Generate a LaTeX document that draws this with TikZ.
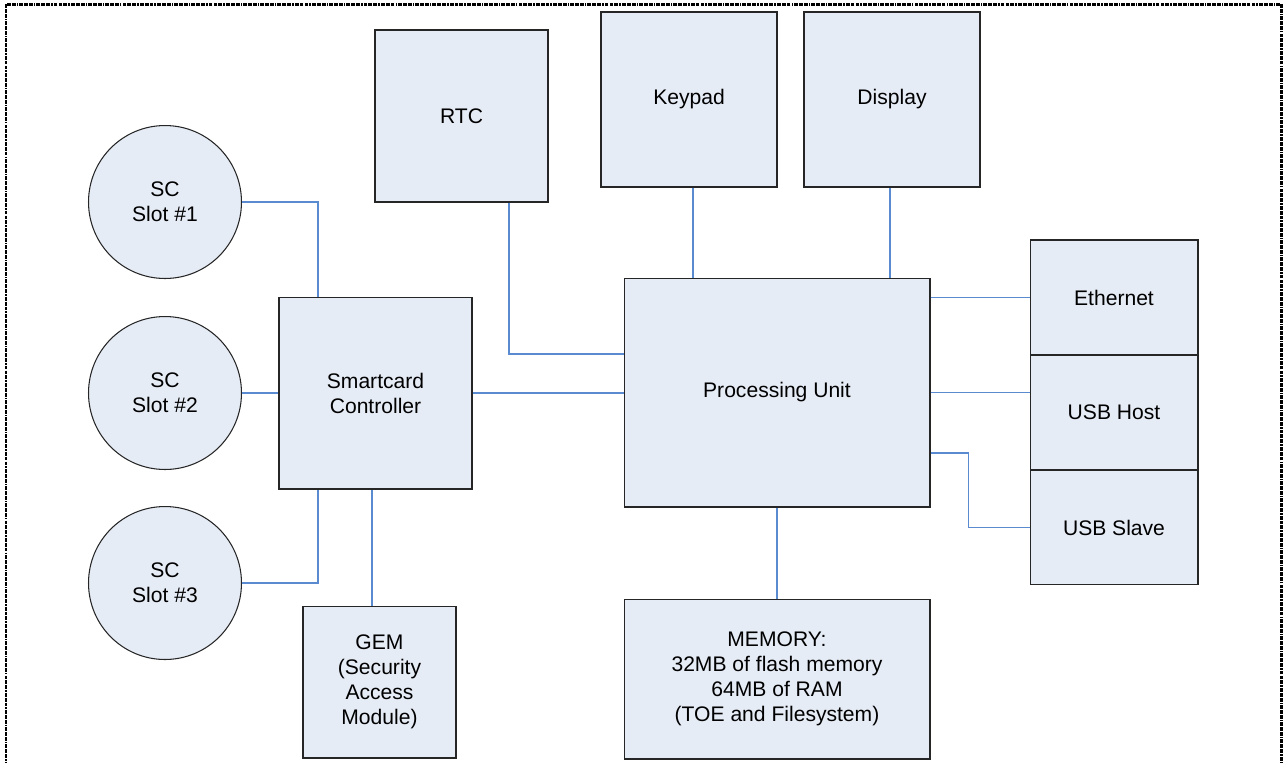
\documentclass[tikz,border=0pt]{standalone}
\usepackage{fontspec}
\setmainfont{Liberation Sans}
\usepackage{tikz}
\usetikzlibrary{positioning,calc}

\definecolor{boxfill}{HTML}{E6ECF6}
\definecolor{linkblue}{HTML}{5A8AD0}

\begin{document}
\begin{tikzpicture}[
		x=0.02cm,y=-0.02cm,
		every node/.append style={font=\fontsize{12}{14.2}\selectfont,align=center},
		block/.style={draw=black!85,line width=0.6pt,fill=boxfill,inner sep=0pt},
		slot/.style={block,circle,minimum size=3.06cm},
		link/.style={draw=linkblue,line width=0.6pt}
	]
	\useasboundingbox (0,0) rectangle (1285,762);
	\draw[line width=1.7pt,dash pattern=on 2.2pt off 0.6pt on 2.2pt off 0.6pt on 2.2pt off 0.6pt on 0.8pt off 0.6pt] (6,4) rectangle (1281,800);

	% top row
	\node[block,minimum width=3.46cm,minimum height=3.44cm] (rtc) at (461.5,116) {RTC};
	\node[block,minimum width=3.52cm,minimum height=3.5cm] (keypad) at (689,99.5) {Keypad};
	\node[block,minimum width=3.52cm,minimum height=3.5cm] (display) at (892,99.5) {Display};

	% smartcard side
	\node[slot] (slot1) at (165,202) {SC\\Slot \#1};
	\node[slot] (slot2) at (165,393) {SC\\Slot \#2};
	\node[slot] (slot3) at (165,583) {SC\\Slot \#3};
	\node[block,minimum width=3.86cm,minimum height=3.84cm] (ctrl) at (375.5,393) {Smartcard\\Controller};
	\node[block,minimum width=3.06cm,minimum height=3.04cm] (gem) at (379.5,682) {GEM\\(Security\\Access\\Module)};

	% core and memory
	\node[block,minimum width=6.12cm,minimum height=4.58cm] (pu) at (777,392.5) {Processing Unit};
	\node[block,minimum width=6.12cm,minimum height=3.2cm] (mem) at (777,679) {MEMORY:\\32MB of flash memory\\64MB of RAM\\(TOE and Filesystem)};

	% interfaces stack
	\node[block,minimum width=3.36cm,minimum height=2.3cm] (eth) at (1114,297.5) {Ethernet};
	\node[block,minimum width=3.36cm,minimum height=2.3cm,below=-0.6pt of eth] (usbh) {USB Host};
	\node[block,minimum width=3.36cm,minimum height=2.3cm,below=-0.6pt of usbh] (usbs) {USB Slave};

	% connections
	\draw[link] (slot1.east) -| ([xshift=-1.15cm]ctrl.north);
	\draw[link] (slot2.east) -- (slot2.east -| ctrl.west);
	\draw[link] (slot3.east) -| ([xshift=-1.15cm]ctrl.south);
	\draw[link] ([xshift=-0.07cm]ctrl.south) -- ([xshift=-0.07cm]ctrl.south |- gem.north);
	\draw[link] (ctrl.east) -- (ctrl.east -| pu.west);
	\draw[link] ([xshift=0.95cm]rtc.south) |- ([yshift=0.77cm]pu.west);
	\draw[link] ([xshift=0.08cm]keypad.south) -- ([xshift=0.08cm]keypad.south |- pu.north);
	\draw[link] ([xshift=-0.04cm]display.south) -- ([xshift=-0.04cm]display.south |- pu.north);
	\draw[link] (eth.west -| pu.east) -- (eth.west);
	\draw[link] (pu.east) -- (pu.east -| usbh.west);
	\draw[link] ([yshift=-1.21cm]pu.east) -- ++(38,0) |- (usbs.west);
	\draw[link] (pu.south) -- (mem.north);
\end{tikzpicture}
\end{document}
